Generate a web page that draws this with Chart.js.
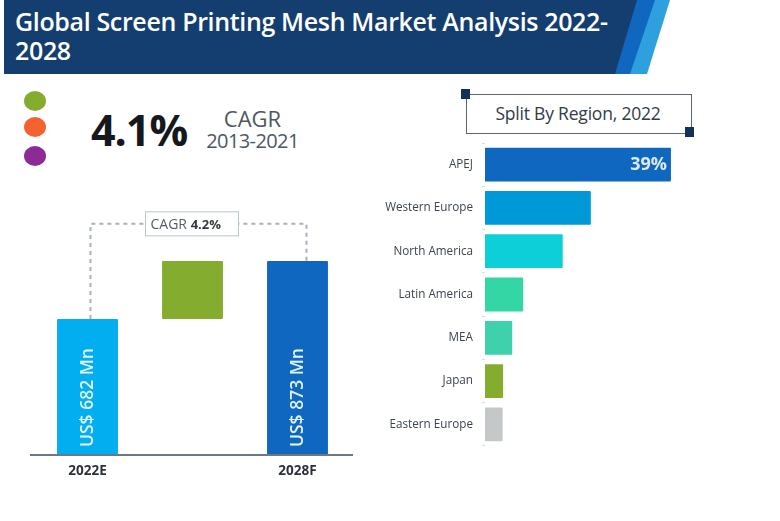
<!DOCTYPE html>
<html>
<head>
<meta charset="utf-8">
<script src="https://cdn.jsdelivr.net/npm/chart.js@4"></script>
<style>
  html, body { margin: 0; padding: 0; background: #fff; }
  body { width: 780px; height: 521px; position: relative; overflow: hidden; font-family: "Open Sans", sans-serif; }
  .abs { position: absolute; }
  .band { left: 0; top: 0; width: 780px; height: 74px; }
  #title { left: 15px; top: 7px; width: 615px; color: #fff; font-size: 25px; font-weight: 600; line-height: 29px; letter-spacing: -0.35px; white-space: nowrap; }
  .dot { left: 24px; width: 22px; height: 20px; border-radius: 50%; }
  #big { left: 91px; top: 100px; color: #15181c; font-size: 43px; font-weight: 700; line-height: 60px; letter-spacing: -1px; }
  #cagrA { left: 205px; top: 104px; width: 95px; text-align: center; color: #4d5763; font-size: 22px; line-height: 28px; }
  #cagrB { left: 200px; top: 128px; width: 105px; text-align: center; color: #4d5763; font-size: 20px; line-height: 26px; letter-spacing: -0.6px; white-space: nowrap; }
  #splitBox { left: 466px; top: 94px; width: 224px; height: 38px; border: 1px solid #5c6672; }
  #splitText { left: 466px; top: 101px; width: 224px; text-align: center; color: #333c47; font-size: 17.5px; line-height: 24px; letter-spacing: -0.2px; white-space: nowrap; }
  .corner { width: 9px; height: 10px; background: #12305a; }
  #leftWrap { left: 0; top: 200px; width: 360px; height: 290px; }
  #rightWrap { left: 370px; top: 127px; width: 320px; height: 335px; }
</style>
</head>
<body>
<div class="abs band" style="background:#2fa0de;clip-path:polygon(640px 0,670px 0,647px 74px,620px 74px)"></div>
<div class="abs band" style="background:#0f67bf;clip-path:polygon(630px 0,655px 0,630px 74px,610px 74px)"></div>
<div class="abs band" style="background:#143e70;clip-path:polygon(4px 0,637px 0,615px 74px,4px 74px)"></div>
<div class="abs" id="title">Global Screen Printing Mesh Market Analysis 2022-<br>2028</div>

<div class="abs dot" style="top:91px;background:#84ad2f"></div>
<div class="abs dot" style="top:117px;background:#f4622f"></div>
<div class="abs dot" style="top:146px;background:#8e2a96"></div>
<div class="abs" id="big">4.1%</div>
<div class="abs" id="cagrA">CAGR</div>
<div class="abs" id="cagrB">2013-2021</div>

<div class="abs" id="splitBox"></div>
<div class="abs corner" style="left:461px;top:89px"></div>
<div class="abs corner" style="left:685px;top:127px"></div>
<div class="abs" id="splitText">Split By Region, 2022</div>

<div class="abs" id="leftWrap"><canvas id="leftChart"></canvas></div>
<div class="abs" id="rightWrap"><canvas id="rightChart"></canvas></div>

<script>
// left chart data
var yearLabels = ["2022E", "", "2028F"];
var marketStart = [234, 682, 234];
var marketEnd = [682, 873, 873];
var marketText = ["US$ 682 Mn", "", "US$ 873 Mn"];
var marketColors = ["#02aeef", "#84ad2f", "#0f67bf"];
var cagrLabel = "CAGR ";
var cagrValue = "4.2%";
var connectorLevel = 995;

// right chart data
var regions = ["APEJ", "Western Europe", "North America", "Latin America", "MEA", "Japan", "Eastern Europe"];
var regionShare = [39, 22.2, 16.3, 8, 5.7, 3.8, 3.7];
var regionText = ["39%", "", "", "", "", "", ""];
var regionColors = ["#0f67bf", "#0099d8", "#0ccfd8", "#35d6a6", "#3fd0ac", "#84ad2f", "#c4c8c8"];

Chart.defaults.animation = false;
Chart.defaults.responsive = false;
Chart.defaults.font.family = '"Open Sans", sans-serif';

function sizeCanvas(id, w, h) {
  var c = document.getElementById(id);
  c.width = w;
  c.height = h;
  c.style.width = w + "px";
  c.style.height = h + "px";
  return c;
}

// rotated labels in the bars + dashed CAGR connector
var marketPlugin = {
  id: "marketPlugin",
  afterDatasetsDraw: function (chart) {
    var ctx = chart.ctx;
    var bars = chart.getDatasetMeta(0).data;
    var y = chart.scales.y;
    var levelY = y.getPixelForValue(connectorLevel);

    ctx.save();
    // axis line runs a bit past the plot
    ctx.strokeStyle = "#6f7780";
    ctx.lineWidth = 2;
    ctx.beginPath();
    ctx.moveTo(chart.chartArea.left - 5, chart.chartArea.bottom);
    ctx.lineTo(chart.chartArea.right + 3, chart.chartArea.bottom);
    ctx.stroke();

    ctx.strokeStyle = "#a5b1bd";
    ctx.lineWidth = 2;
    ctx.setLineDash([4, 4]);
    ctx.beginPath();
    ctx.moveTo(bars[0].x + 3, y.getPixelForValue(marketEnd[0]));
    ctx.lineTo(bars[0].x + 3, levelY);
    ctx.lineTo(bars[2].x + 9, levelY);
    ctx.lineTo(bars[2].x + 9, y.getPixelForValue(marketEnd[2]));
    ctx.stroke();
    ctx.setLineDash([]);

    // CAGR box sits on the connector
    var cx = bars[1].x;
    ctx.fillStyle = "#fff";
    ctx.fillRect(cx - 47, levelY - 12, 93, 24);
    ctx.strokeStyle = "#b4c6cf";
    ctx.lineWidth = 1;
    ctx.strokeRect(cx - 47, levelY - 12, 93, 24);
    ctx.textBaseline = "middle";
    ctx.textAlign = "left";
    ctx.fillStyle = "#555e6a";
    ctx.font = '14px "Open Sans", sans-serif';
    ctx.fillText(cagrLabel, cx - 42, levelY + 1);
    var w = ctx.measureText(cagrLabel).width;
    ctx.fillStyle = "#333a44";
    ctx.font = 'bold 13px "Open Sans", sans-serif';
    ctx.fillText(cagrValue, cx - 42 + w, levelY + 1);

    // bar value text
    ctx.fillStyle = "#dff3fb";
    ctx.font = '600 17.5px "Open Sans", sans-serif';
    ctx.textAlign = "left";
    bars.forEach(function (bar, i) {
      if (!marketText[i]) return;
      ctx.save();
      ctx.translate(bar.x + 1, chart.chartArea.bottom - 8);
      ctx.rotate(-Math.PI / 2);
      ctx.fillText(marketText[i], 0, 0);
      ctx.restore();
    });
    ctx.restore();
  }
};

// value text at the end of a bar
var regionPlugin = {
  id: "regionPlugin",
  afterDatasetsDraw: function (chart) {
    var ctx = chart.ctx;
    ctx.save();
    ctx.fillStyle = "#dcebf5";
    ctx.font = 'bold 18px "Open Sans", sans-serif';
    ctx.textAlign = "right";
    ctx.textBaseline = "middle";
    chart.getDatasetMeta(0).data.forEach(function (bar, i) {
      if (regionText[i]) ctx.fillText(regionText[i], bar.x - 4, bar.y);
    });
    ctx.restore();
  }
};

new Chart(sizeCanvas("leftChart", 360, 290), {
  type: "bar",
  data: {
    labels: yearLabels,
    datasets: [{
      data: marketStart.map(function (s, i) { return [s, marketEnd[i]]; }),
      backgroundColor: marketColors,
      barPercentage: 0.58,
      categoryPercentage: 1,
      borderRadius: 1,
      borderSkipped: false
    }]
  },
  options: {
    layout: { padding: { left: 35, right: 10, top: 5, bottom: 0 } },
    plugins: { legend: { display: false }, tooltip: { enabled: false } },
    scales: {
      x: {
        grid: { display: false },
        border: { display: false },
        ticks: { color: "#2b323b", font: { size: 13.5, weight: "bold" }, padding: 0, autoSkip: false, maxRotation: 0 },
        afterFit: function (scale) { scale.height = 35; }
      },
      y: { display: false, min: 234, max: 1057 }
    }
  },
  plugins: [marketPlugin]
});

new Chart(sizeCanvas("rightChart", 320, 335), {
  type: "bar",
  data: {
    labels: regions,
    datasets: [{
      data: regionShare,
      backgroundColor: regionColors,
      barPercentage: 0.78,
      categoryPercentage: 1,
      borderRadius: 1
    }]
  },
  options: {
    indexAxis: "y",
    layout: { padding: { left: 0, right: 10, top: 2, bottom: 13 } },
    plugins: { legend: { display: false }, tooltip: { enabled: false } },
    scales: {
      x: { display: false, min: 0, max: 40.9 },
      y: {
        grid: { drawOnChartArea: false, color: "#d8dcdf", tickLength: 3 },
        border: { display: false },
        ticks: { color: "#3b4450", font: { size: 11.7 }, padding: 9, autoSkip: false },
        afterFit: function (scale) { scale.width = 115; }
      }
    }
  },
  plugins: [regionPlugin]
});
</script>
</body>
</html>
